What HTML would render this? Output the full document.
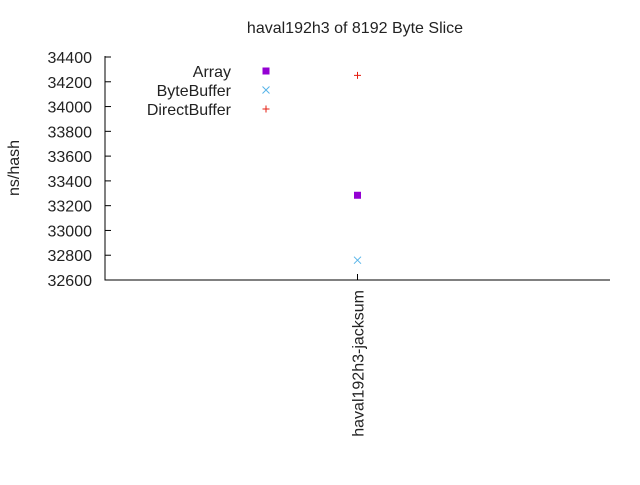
<!DOCTYPE html>
<html><head><style>
body{margin:0;background:#fff;}
svg text{font-family:"Liberation Sans",sans-serif;font-size:16px;fill:#222;}
</style></head><body>
<svg width="640" height="480">
<text x="355" y="33" text-anchor="middle">haval192h3 of 8192 Byte Slice</text>
<text transform="translate(19,168) rotate(-90)" text-anchor="middle">ns/hash</text>
<g id="axes"></g>
<g id="marks"></g>
<g id="legend"></g>
</svg>
<script>
const categories=["haval192h3-jacksum"];
const arrayVals=[33284];
const byteBufferVals=[32760];
const directBufferVals=[34252];
const yTicks=[32600,32800,33000,33200,33400,33600,33800,34000,34200,34400];
const NS="http://www.w3.org/2000/svg";
const X0=105,X1=610,Y0=280,Y1=57,YMIN=32600,YMAX=34400;
function y(v){return Y0-(v-YMIN)/(YMAX-YMIN)*(Y0-Y1);}
function x(i){return X0+(i+0.5)*(X1-X0)/categories.length;}
function mk(tag,attrs,parent){const e=document.createElementNS(NS,tag);for(const k in attrs)e.setAttribute(k,attrs[k]);parent.appendChild(e);return e;}
const axes=document.getElementById('axes');
let a=mk('path',{d:`M${X0},${Y1-1}V${Y0}H${X1}`,stroke:'#000','stroke-width':1,fill:'none'},axes);


yTicks.forEach(t=>{
 const l=mk('line',{x1:X0,x2:X0+6,y1:y(t),y2:y(t),stroke:'#000'},axes);
 
 
 const tx=mk('text',{x:X0-13,y:y(t)+6,'text-anchor':'end'},axes);
 tx.textContent=t;
 
 
});
categories.forEach((c,i)=>{
 const l=mk('line',{x1:x(i),x2:x(i),y1:Y0,y2:Y0-6,stroke:'#000'},axes);
 
 
 const tx=mk('text',{transform:`translate(${x(i)+6},${Y0+10}) rotate(-90)`,'text-anchor':'end'},axes);
 tx.textContent=c;
 
 
});
const marks=document.getElementById('marks');
function sq(cx,cy,p,name){const e=mk('rect',{x:cx-3.5,y:cy-3.5,width:7,height:7,fill:'#9400d3'},p);}
function cross(cx,cy,p,name){const e=mk('path',{d:`M${cx-3.5},${cy-3.5}L${cx+3.5},${cy+3.5}M${cx-3.5},${cy+3.5}L${cx+3.5},${cy-3.5}`,stroke:'#56b4e9','stroke-width':1},p);}
function plus(cx,cy,p,name){const e=mk('path',{d:`M${cx-3.5},${cy}H${cx+3.5}M${cx},${cy-3.5}V${cy+3.5}`,stroke:'#e51e10','stroke-width':1},p);}
categories.forEach((c,i)=>{
 sq(x(i),y(arrayVals[i]),marks,'point-array');
 cross(x(i),y(byteBufferVals[i]),marks,'point-bytebuffer');
 plus(x(i),y(directBufferVals[i]),marks,'point-directbuffer');
});
const lg=document.getElementById('legend');
[["Array",sq,71],["ByteBuffer",cross,90],["DirectBuffer",plus,109]].forEach(([n,f,yy])=>{
 const t=mk('text',{x:231,y:yy+6,'text-anchor':'end'},lg);
 t.textContent=n;
 
 
 f(266,yy,lg,'legend-marker');
});
</script>
</body></html>
